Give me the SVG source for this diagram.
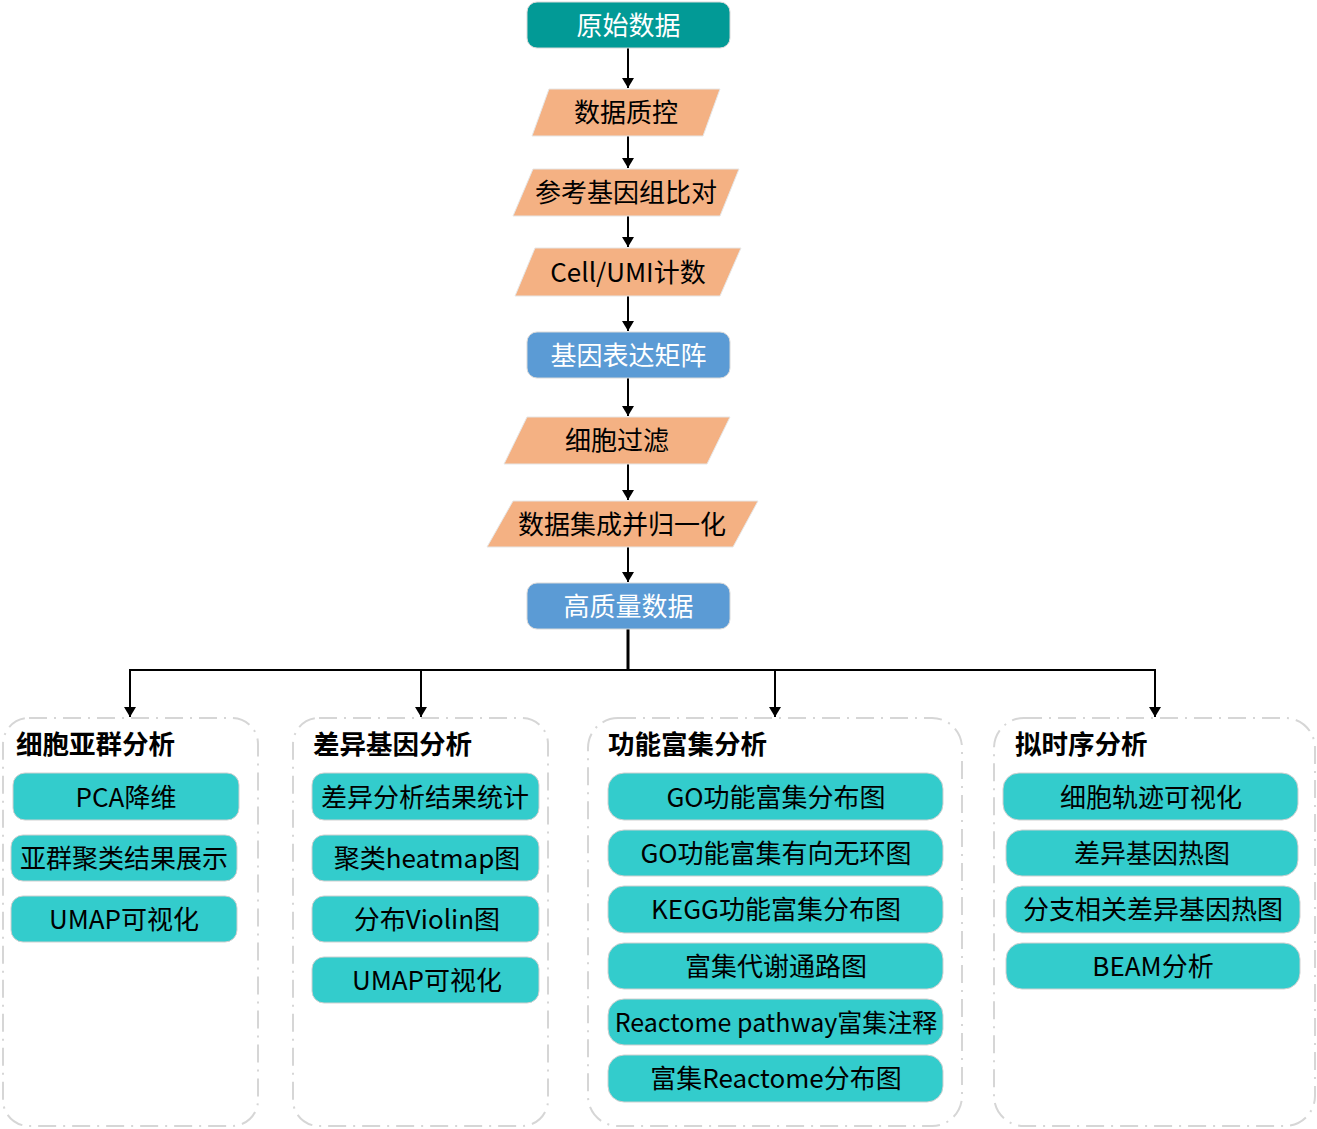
<svg xmlns="http://www.w3.org/2000/svg" width="1317" height="1129" viewBox="0 0 1317 1129">
  <style>
    text { font-family: "Noto Sans CJK SC", "Noto Sans", sans-serif; }
    .t { font-size: 26px; fill: #000; text-anchor: middle; dominant-baseline: central; }
    .tw { font-size: 26px; fill: #fff; text-anchor: middle; dominant-baseline: central; }
    .title { font-size: 26.5px; font-weight: bold; fill: #000; }
    .start { fill: #029a96; stroke: #d9d9d9; stroke-width: 1; }
    .blue { fill: #5b9bd5; stroke: #d9d9d9; stroke-width: 1; }
    .para { fill: #f4b183; stroke: #e6e6e6; stroke-width: 1; }
    .item { fill: #33cccc; stroke: #d0d0d0; stroke-width: 1; }
    .box { fill: none; stroke: #d6d6d6; stroke-width: 2; stroke-dasharray: 18 7 2 7; }
    .edge { stroke: #000; stroke-width: 2; fill: none; }
  </style>
  <defs>
    <marker id="arrow" viewBox="0 0 10 12" refX="10" refY="6" markerWidth="10" markerHeight="12" markerUnits="userSpaceOnUse" orient="auto">
      <path d="M0,0 L10,6 L0,12 z" fill="#000"/>
    </marker>
  </defs>
  <rect width="1317" height="1129" fill="#fff"/>

  <!-- connectors -->
  <g id="connectors">
    <line class="edge" x1="628" y1="48" x2="628" y2="88" marker-end="url(#arrow)"/>
    <line class="edge" x1="628" y1="136" x2="628" y2="168" marker-end="url(#arrow)"/>
    <line class="edge" x1="628" y1="216" x2="628" y2="247" marker-end="url(#arrow)"/>
    <line class="edge" x1="628" y1="296" x2="628" y2="331" marker-end="url(#arrow)"/>
    <line class="edge" x1="628" y1="378" x2="628" y2="416" marker-end="url(#arrow)"/>
    <line class="edge" x1="628" y1="464" x2="628" y2="500" marker-end="url(#arrow)"/>
    <line class="edge" x1="628" y1="547" x2="628" y2="582" marker-end="url(#arrow)"/>
    <line x1="628" y1="629" x2="628" y2="670" stroke="#000" stroke-width="3"/>
    <line x1="129" y1="670" x2="1156" y2="670" stroke="#000" stroke-width="2"/>
    <line class="edge" x1="130" y1="670" x2="130" y2="717" marker-end="url(#arrow)"/>
    <line class="edge" x1="421" y1="670" x2="421" y2="717" marker-end="url(#arrow)"/>
    <line class="edge" x1="775" y1="670" x2="775" y2="717" marker-end="url(#arrow)"/>
    <line class="edge" x1="1155" y1="670" x2="1155" y2="717" marker-end="url(#arrow)"/>
  </g>

  <!-- main pipeline -->
  <g id="raw-data">
    <rect class="start" x="527" y="2" width="203" height="46" rx="10"/>
    <text class="tw" x="628.5" y="23.5">原始数据</text>
  </g>
  <g id="qc">
    <polygon class="para" points="549,89 720,89 703,136 532,136"/>
    <text class="t" x="626" y="110.5">数据质控</text>
  </g>
  <g id="alignment">
    <polygon class="para" points="533,169 739,169 720,216 513,216"/>
    <text class="t" x="626" y="190.5">参考基因组比对</text>
  </g>
  <g id="counting">
    <polygon class="para" points="535,248 741,248 720,296 515,296"/>
    <text class="t" x="628" y="270.5">Cell/UMI计数</text>
  </g>
  <g id="matrix">
    <rect class="blue" x="527" y="332" width="203" height="46" rx="10"/>
    <text class="tw" x="628.5" y="353.5">基因表达矩阵</text>
  </g>
  <g id="cell-filter">
    <polygon class="para" points="527,417 730,417 707,464 504,464"/>
    <text class="t" x="617" y="438.5">细胞过滤</text>
  </g>
  <g id="integration">
    <polygon class="para" points="513,501 758,501 733,547 487,547"/>
    <text class="t" x="622" y="522.5">数据集成并归一化</text>
  </g>
  <g id="hq-data">
    <rect class="blue" x="527" y="583" width="203" height="46" rx="10"/>
    <text class="tw" x="628.5" y="604.5">高质量数据</text>
  </g>

  <!-- subcluster analysis -->
  <g id="group-subcluster">
    <rect class="box" x="3" y="718" width="255" height="408" rx="26"/>
    <text class="title" x="16" y="754">细胞亚群分析</text>
    <g id="pca">
      <rect class="item" x="13" y="773" width="226" height="47" rx="12"/>
      <text class="t" x="126" y="795.5">PCA降维</text>
    </g>
    <g id="subcluster-result">
      <rect class="item" x="11" y="835" width="226" height="46" rx="12"/>
      <text class="t" x="124" y="856.5">亚群聚类结果展示</text>
    </g>
    <g id="umap-1">
      <rect class="item" x="11" y="896" width="226" height="46" rx="12"/>
      <text class="t" x="124" y="917.5">UMAP可视化</text>
    </g>
  </g>

  <!-- differential expression -->
  <g id="group-deg">
    <rect class="box" x="293" y="718" width="255" height="408" rx="26"/>
    <text class="title" x="313" y="754">差异基因分析</text>
    <g id="deg-stats">
      <rect class="item" x="312" y="773" width="227" height="47" rx="12"/>
      <text class="t" x="425" y="795.5">差异分析结果统计</text>
    </g>
    <g id="heatmap">
      <rect class="item" x="312" y="835" width="227" height="46" rx="12"/>
      <text class="t" x="427" y="856.5">聚类heatmap图</text>
    </g>
    <g id="violin">
      <rect class="item" x="312" y="896" width="227" height="46" rx="12"/>
      <text class="t" x="427" y="917.5">分布Violin图</text>
    </g>
    <g id="umap-2">
      <rect class="item" x="312" y="957" width="227" height="46" rx="12"/>
      <text class="t" x="427" y="978.5">UMAP可视化</text>
    </g>
  </g>

  <!-- enrichment -->
  <g id="group-enrichment">
    <rect class="box" x="588" y="718" width="374" height="408" rx="30"/>
    <text class="title" x="608" y="754">功能富集分析</text>
    <g id="go-dist">
      <rect class="item" x="608" y="773" width="335" height="47" rx="16"/>
      <text class="t" x="776" y="795.5">GO功能富集分布图</text>
    </g>
    <g id="go-dag">
      <rect class="item" x="608" y="830" width="335" height="46" rx="16"/>
      <text class="t" x="776" y="851.5">GO功能富集有向无环图</text>
    </g>
    <g id="kegg-dist">
      <rect class="item" x="608" y="886" width="335" height="47" rx="16"/>
      <text class="t" x="776" y="907.5">KEGG功能富集分布图</text>
    </g>
    <g id="pathway-map">
      <rect class="item" x="608" y="943" width="335" height="46" rx="16"/>
      <text class="t" x="776" y="964.5">富集代谢通路图</text>
    </g>
    <g id="reactome-anno">
      <rect class="item" x="608" y="999" width="335" height="46" rx="16"/>
      <text class="t" x="776" y="1020.5" style="font-size:25px">Reactome pathway富集注释</text>
    </g>
    <g id="reactome-dist">
      <rect class="item" x="608" y="1055" width="335" height="47" rx="16"/>
      <text class="t" x="776" y="1076.5">富集Reactome分布图</text>
    </g>
  </g>

  <!-- pseudotime -->
  <g id="group-pseudotime">
    <rect class="box" x="994" y="718" width="321" height="408" rx="30"/>
    <text class="title" x="1015" y="754">拟时序分析</text>
    <g id="trajectory">
      <rect class="item" x="1003" y="773" width="295" height="47" rx="16"/>
      <text class="t" x="1151" y="795.5">细胞轨迹可视化</text>
    </g>
    <g id="deg-heatmap">
      <rect class="item" x="1006" y="830" width="292" height="46" rx="16"/>
      <text class="t" x="1152" y="851.5">差异基因热图</text>
    </g>
    <g id="branch-heatmap">
      <rect class="item" x="1006" y="886" width="294" height="47" rx="16"/>
      <text class="t" x="1153" y="907.5">分支相关差异基因热图</text>
    </g>
    <g id="beam">
      <rect class="item" x="1006" y="943" width="294" height="46" rx="16"/>
      <text class="t" x="1153" y="964.5">BEAM分析</text>
    </g>
  </g>
</svg>
